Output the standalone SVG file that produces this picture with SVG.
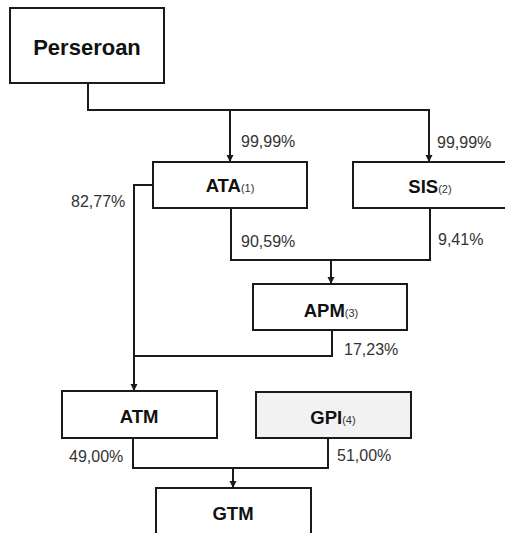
<svg xmlns="http://www.w3.org/2000/svg" width="505" height="533" viewBox="0 0 505 533">
<defs>
<marker id="arr" markerUnits="userSpaceOnUse" markerWidth="8" markerHeight="8" refX="7" refY="3.5" orient="auto">
<path d="M0,0 L7,3.5 L0,7 z" fill="#1a1a1a"/>
</marker>
<style>
.box{fill:#ffffff;stroke:#1a1a1a;stroke-width:2}
.grey{fill:#f2f2f2}
.lbl{font-family:"Liberation Sans",Arial,sans-serif;font-weight:bold;fill:#111111;text-anchor:middle}
.sub{font-weight:normal;font-size:11px;fill:#333333}
.pct{font-family:"Liberation Sans",Arial,sans-serif;font-size:16px;fill:#333333}
.ln{fill:none;stroke:#1a1a1a;stroke-width:2}
.ar{marker-end:url(#arr)}
</style>
</defs>
<rect width="505" height="533" fill="#ffffff"/>
<g id="connectors">
<polyline class="ln" points="88,83 88,110 430,110"/>
<line class="ln ar" x1="230" y1="110" x2="230" y2="162"/>
<line class="ln ar" x1="429" y1="110" x2="429" y2="162"/>
<polyline class="ln ar" points="153,185 134,185 134,391"/>
<polyline class="ln" points="231,208 231,260 430,260 430,208"/>
<line class="ln ar" x1="331" y1="260" x2="331" y2="284"/>
<polyline class="ln" points="332,330 332,356 134,356"/>
<polyline class="ln" points="133,438 133,468 328,468 328,438"/>
<line class="ln ar" x1="233" y1="468" x2="233" y2="488"/>
</g>
<g id="labels">
<text class="pct" x="241" y="147">99,99%</text>
<text class="pct" x="437" y="148">99,99%</text>
<text class="pct" x="71" y="207">82,77%</text>
<text class="pct" x="241" y="247">90,59%</text>
<text class="pct" x="438" y="245">9,41%</text>
<text class="pct" x="344" y="355">17,23%</text>
<text class="pct" x="69" y="462">49,00%</text>
<text class="pct" x="337" y="461">51,00%</text>
</g>
<g id="node-perseroan">
<rect class="box" x="10" y="8" width="154" height="75"/>
<text class="lbl" x="87" y="55" font-size="22">Perseroan</text>
</g>
<g id="node-ata">
<rect class="box" x="153" y="162" width="154" height="46"/>
<text class="lbl" x="230" y="192" font-size="18.5">ATA<tspan class="sub">(1)</tspan></text>
</g>
<g id="node-sis">
<rect class="box" x="353" y="162" width="156" height="46"/>
<text class="lbl" x="430" y="193" font-size="18.5">SIS<tspan class="sub">(2)</tspan></text>
</g>
<g id="node-apm">
<rect class="box" x="253" y="284" width="154" height="46"/>
<text class="lbl" x="331" y="317" font-size="18.5">APM<tspan class="sub">(3)</tspan></text>
</g>
<g id="node-atm">
<rect class="box" x="62" y="391" width="155" height="47"/>
<text class="lbl" x="139" y="423" font-size="18.5">ATM</text>
</g>
<g id="node-gpi">
<rect class="box grey" x="256" y="392" width="155" height="46"/>
<text class="lbl" x="333" y="424" font-size="18.5">GPI<tspan class="sub">(4)</tspan></text>
</g>
<g id="node-gtm">
<rect class="box" x="156" y="488" width="155" height="60"/>
<text class="lbl" x="233" y="520" font-size="18.5">GTM</text>
</g>
</svg>
